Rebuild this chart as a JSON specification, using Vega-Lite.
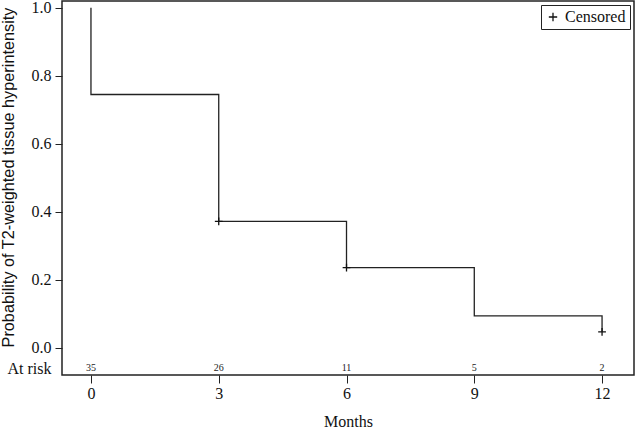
{
  "$schema": "https://vega.github.io/schema/vega-lite/v6.json",
  "autosize": "none",
  "padding": {"left": 62, "top": 1, "right": 2, "bottom": 54},
  "width": 572,
  "height": 374,
  "background": "white",
  "config": {
    "view": {"stroke": "#222", "strokeWidth": 1.5},
    "font": "Liberation Serif"
  },
  "datasets": {
    "curve": [
      {"month": 0, "surv": 1.0},
      {"month": 0, "surv": 0.745},
      {"month": 3, "surv": 0.372},
      {"month": 6, "surv": 0.236},
      {"month": 9, "surv": 0.094},
      {"month": 12, "surv": 0.047}
    ],
    "censored": [
      {"month": 3, "surv": 0.372, "kind": "Censored"},
      {"month": 6, "surv": 0.236, "kind": "Censored"},
      {"month": 12, "surv": 0.047, "kind": "Censored"}
    ],
    "risk": [
      {"month": 0, "n": 35, "row": -0.06},
      {"month": 3, "n": 26, "row": -0.06},
      {"month": 6, "n": 11, "row": -0.06},
      {"month": 9, "n": 5, "row": -0.06},
      {"month": 12, "n": 2, "row": -0.06}
    ]
  },
  "layer": [
    {
      "data": {"name": "curve"},
      "mark": {"type": "line", "interpolate": "step-after", "color": "#222", "strokeWidth": 1.3},
      "encoding": {
        "x": {
          "field": "month", "type": "quantitative",
          "scale": {"domain": [-0.68, 12.75], "nice": false, "zero": false},
          "axis": {
            "values": [0, 3, 6, 9, 12],
            "title": "Months",
            "titleFont": "Liberation Serif", "titleFontSize": 16, "titleFontWeight": "normal", "titleColor": "#111",
            "titlePadding": 12,
            "labelFont": "Liberation Serif", "labelFontSize": 16, "labelColor": "#111",
            "tickSize": 8, "tickColor": "#222", "labelPadding": 2,
            "domain": false, "grid": false
          }
        },
        "y": {
          "field": "surv", "type": "quantitative",
          "scale": {"domain": [-0.08, 1.02], "nice": false, "zero": false},
          "axis": {
            "values": [-0.06, 0, 0.2, 0.4, 0.6, 0.8, 1.0],
            "labelExpr": "datum.value < 0 ? 'At risk' : format(datum.value, '.1f')",
            "tickOpacity": {"condition": {"test": "datum.value < 0", "value": 0}, "value": 1},
            "labelFontSize": 16,
            "title": "Probability of T2-weighted tissue hyperintensity",
            "titleFont": "Liberation Sans", "titleFontSize": 16.3, "titleFontWeight": "normal", "titleColor": "#111",
            "titleY": 176, "titleX": -46,
            "labelFont": "Liberation Serif", "labelColor": "#111",
            "tickSize": 7, "tickColor": "#222", "labelPadding": 4,
            "domain": false, "grid": false
          }
        }
      }
    },
    {
      "data": {"name": "censored"},
      "mark": {"type": "point", "filled": false, "strokeWidth": 1.3, "opacity": 1},
      "encoding": {
        "x": {"field": "month", "type": "quantitative"},
        "y": {"field": "surv", "type": "quantitative"},
        "shape": {
          "field": "kind", "type": "nominal",
          "scale": {"range": ["M-1,0H1M0,-1V1"]},
          "legend": {
            "title": null, "orient": "top-right", "offset": 4,
            "strokeColor": "#222", "padding": 4,
            "labelFont": "Liberation Serif", "labelFontSize": 16, "labelColor": "#111",
            "symbolStrokeColor": "#111", "symbolSize": 70, "symbolStrokeWidth": 1.3
          }
        },
        "color": {"value": "#111"},
        "size": {"value": 60}
      }
    },
    {
      "data": {"name": "risk"},
      "mark": {"type": "text", "fontSize": 10, "font": "Liberation Serif", "color": "#222", "baseline": "middle"},
      "encoding": {
        "x": {"field": "month", "type": "quantitative"},
        "y": {"field": "row", "type": "quantitative"},
        "text": {"field": "n", "type": "quantitative"}
      }
    }
  ]
}
